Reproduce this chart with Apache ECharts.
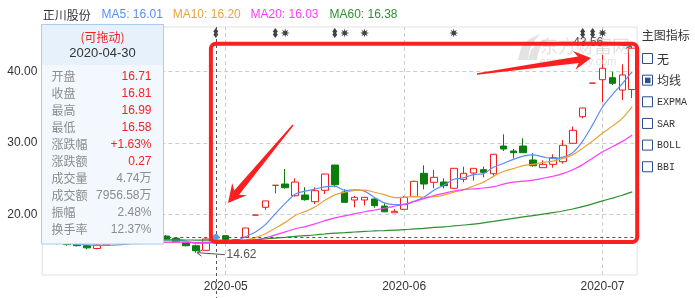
<!DOCTYPE html>
<html><head><meta charset="utf-8">
<script src="https://cdn.jsdelivr.net/npm/echarts@6/dist/echarts.min.js"></script>
<style>html,body{margin:0;padding:0;background:#fff}#c{width:695px;height:298px}</style>
</head><body><div id="c"></div>
<script>
// ---------- data ----------
const dates = ['2020-04-07','2020-04-08','2020-04-09','2020-04-10','2020-04-13','2020-04-14','2020-04-15','2020-04-16','2020-04-17','2020-04-20','2020-04-21','2020-04-22','2020-04-23','2020-04-24','2020-04-27','2020-04-28','2020-04-29','2020-04-30',
'2020-05-06','2020-05-07','2020-05-08','2020-05-11','2020-05-12','2020-05-13','2020-05-14','2020-05-15','2020-05-18','2020-05-19','2020-05-20','2020-05-21','2020-05-22','2020-05-25','2020-05-26','2020-05-27','2020-05-28','2020-05-29',
'2020-06-01','2020-06-02','2020-06-03','2020-06-04','2020-06-05','2020-06-08','2020-06-09','2020-06-10','2020-06-11','2020-06-12','2020-06-15','2020-06-16','2020-06-17','2020-06-18','2020-06-19','2020-06-22','2020-06-23','2020-06-24','2020-06-29','2020-06-30',
'2020-07-01','2020-07-02','2020-07-03','2020-07-06'];
const opens = [16.30,16.10,15.90,15.80,15.60,15.20,15.70,15.90,16.00,16.20,16.30,16.60,16.95,16.63,16.07,15.60,14.95,16.71,
17.00,16.35,16.77,19.89,20.98,24.07,24.25,22.61,22.71,21.77,23.37,26.91,23.13,22.01,22.01,22.15,21.16,20.22,
20.70,22.47,25.75,24.49,24.53,23.65,24.91,25.79,26.26,25.69,29.58,28.88,29.58,27.62,26.54,27.01,27.38,29.96,33.69,38.40,
38.88,39.16,37.43,37.50];
const closes = [16.10,15.90,15.75,15.60,15.30,15.70,15.90,16.00,16.20,16.30,16.50,16.45,16.55,16.16,15.60,14.89,16.54,16.81,
16.45,16.44,18.08,19.89,21.88,24.07,23.73,24.53,22.05,23.31,25.65,24.15,21.68,22.38,22.38,21.21,20.36,20.42,
22.38,24.63,24.25,25.19,24.01,26.45,25.75,26.45,25.89,28.42,29.16,28.64,28.64,26.82,27.01,27.94,29.68,31.78,34.91,38.40,
40.48,38.37,39.54,43.30];
const lows = [16.00,15.80,15.60,15.50,15.10,15.10,15.60,15.80,15.90,16.10,16.20,16.30,16.45,16.05,15.50,14.62,14.90,16.58,
16.35,16.20,16.70,19.89,20.60,22.95,23.60,22.50,21.91,21.44,22.85,23.79,21.60,20.98,21.26,20.93,20.30,20.20,
20.60,22.40,23.51,23.65,23.65,23.60,24.49,24.71,25.19,25.41,28.88,27.85,28.60,26.68,26.50,26.54,27.10,29.90,33.46,38.40,
35.71,38.13,36.03,36.30];
const highs = [16.40,16.20,16.00,15.90,15.70,15.80,16.00,16.10,16.30,16.40,16.60,16.70,17.10,16.70,16.20,15.75,16.60,16.99,
17.05,16.50,18.10,19.89,21.88,24.07,26.35,25.05,23.79,23.79,25.70,26.95,23.51,22.57,22.45,22.20,21.54,20.74,
22.57,24.70,26.87,26.21,25.05,26.50,26.68,26.50,26.68,28.45,31.22,29.16,30.66,28.56,27.57,28.42,30.42,32.29,34.95,38.40,
42.34,40.00,41.04,43.56];
const ma5 = [16.20,16.10,15.95,15.85,15.73,15.65,15.65,15.70,15.82,16.02,16.18,16.29,16.40,16.39,16.25,15.93,15.95,16.01,
16.06,16.23,16.86,17.53,18.55,20.07,21.53,22.82,23.25,23.54,23.85,23.94,23.37,23.43,23.25,22.36,21.60,21.35,
21.35,21.80,22.41,23.37,24.09,24.91,25.13,25.57,25.71,26.59,27.13,27.71,28.15,28.34,28.05,27.81,28.02,28.65,30.26,32.54,
35.05,36.79,38.34,40.02];
const ma10 = [16.35,16.30,16.22,16.12,16.05,15.98,15.93,15.90,15.88,15.88,15.92,15.97,16.05,16.11,16.14,16.06,16.12,16.20,
16.23,16.24,16.40,16.74,17.27,18.06,18.87,19.84,20.39,21.04,21.96,22.73,23.09,23.34,23.39,23.10,22.76,22.35,
22.38,22.51,22.37,22.47,22.70,23.11,23.45,23.97,24.52,25.32,26.00,26.40,26.84,27.00,27.30,27.45,27.84,28.37,29.27,30.27,
31.40,32.37,33.46,35.11];
const ma20 = [16.25,16.22,16.20,16.17,16.12,16.10,16.08,16.07,16.07,16.08,16.10,16.10,16.10,16.09,16.07,16.03,16.02,16.03,
16.06,16.08,16.18,16.38,16.69,17.11,17.53,17.97,18.28,18.65,19.12,19.51,19.77,20.07,20.36,20.61,20.85,21.13,
21.42,21.81,22.20,22.64,22.94,23.27,23.46,23.58,23.69,23.88,24.24,24.51,24.66,24.79,25.06,25.34,25.71,26.24,26.97,27.87,
28.78,29.47,30.23,31.14];
const ma60 = [16.52,16.51,16.50,16.50,16.49,16.48,16.47,16.46,16.45,16.44,16.43,16.42,16.41,16.41,16.40,16.39,16.38,16.38,
16.38,16.37,16.40,16.45,16.54,16.66,16.78,16.91,17.00,17.10,17.24,17.36,17.43,17.52,17.61,17.67,17.72,17.78,
17.85,17.96,18.04,18.16,18.24,18.37,18.50,18.63,18.80,19.00,19.22,19.44,19.65,19.83,20.03,20.24,20.47,20.75,21.07,21.46,
21.88,22.27,22.68,23.15];
const yTicks = [20, 30, 40];
const monthStarts = ['2020-05-06','2020-06-01','2020-07-01'];
const monthLabels = ['2020-05','2020-06','2020-07'];
const flagDates = ['2020-04-30','2020-05-13','2020-05-21','2020-06-29','2020-06-30'];
const starDates = ['2020-05-14','2020-05-22','2020-05-26','2020-06-08','2020-07-01'];
const focusDate = '2020-04-30';
const stockName = '正川股份';
const maNames = ['MA5','MA10','MA20','MA60'];
const maFocus = ['16.01','16.20','16.03','16.38'];
const infoLabels = ['开盘','收盘','最高','最低','涨跌幅','涨跌额','成交量','成交额','振幅','换手率'];
const infoValues = ['16.71','16.81','16.99','16.58','+1.63%','0.27','4.74万','7956.58万','2.48%','12.37%'];
const indicatorItems = ['无','均线','EXPMA','SAR','BOLL','BBI'];
const checkedItem = 1;

// ---------- style ----------
const FONT = '"Liberation Sans","Noto Sans CJK SC",sans-serif';
const CJK = '"Noto Sans CJK SC","Liberation Sans",sans-serif';
const maColors = ['#5a8cf5','#e8a43a','#ff3cff','#2f8f2f'];
const UP = '#f21c1c', DOWN = '#0a7d0a';
const G = {left: 42.3, right: 57.8, top: 27, bottom: 23};
const markerLevel = 45.43;

function starPath(){
  let p='';
  for(let k=0;k<16;k++){
    const a=k*Math.PI/8-Math.PI/2, r=(k%2)?0.42:1;
    p+=(k?'L':'M')+(5+Math.cos(a)*5*r).toFixed(2)+','+(5+Math.sin(a)*5*r).toFixed(2);
  }
  return 'path://'+p+'Z';
}
const flagPath = 'path://M2,0 L4,3.6 L3,5 L4,6.4 L2,10 L0,6.4 L1,5 L0,3.6 Z';

const chart = echarts.init(document.getElementById('c'), null, {renderer:'canvas'});
const option = {
  animation: false,
  backgroundColor: '#fff',
  textStyle: {fontFamily: FONT},
  grid: {left: G.left, right: G.right, top: G.top, bottom: G.bottom, show: true, borderColor: '#e2e2e2', borderWidth: 1},
  xAxis: {
    type: 'category', data: dates, boundaryGap: true,
    axisLine: {show: false}, axisTick: {show: false}, splitLine: {show: false},
    axisLabel: {
      interval: (i, v) => monthStarts.includes(v),
      formatter: v => monthLabels[monthStarts.indexOf(v)] || '',
      color: '#333', fontSize: 12, margin: 6, fontFamily: FONT
    }
  },
  yAxis: {
    type: 'value', min: 11.49, max: 46.27, scale: true,
    axisLine: {show: false}, axisTick: {show: false}, splitLine: {show: false},
    axisLabel: {customValues: yTicks, formatter: v => Number(v).toFixed(2), color: '#333', fontSize: 12, margin: 5, fontFamily: FONT}
  },
  series: [
    {
      type: 'candlestick', z: 2, barWidth: 7,
      data: dates.map((d, i) => [opens[i], closes[i], lows[i], highs[i]]),
      itemStyle: {color: '#fff', color0: DOWN, borderColor: UP, borderColor0: DOWN, borderWidth: 1},
      markLine: {
        silent: true, symbol: ['none', 'none'], label: {show: false}, z: 1,
        lineStyle: {color: '#cccccc', type: [4, 3], width: 1},
        emphasis: {disabled: true},
        data: yTicks.map(v => ({yAxis: v})).concat(monthStarts.map(d => ({xAxis: d})))
      }
    },
    {type: 'line', data: ma5, symbol: 'none', smooth: 0.3, z: 3, lineStyle: {color: maColors[0], width: 1.2}},
    {type: 'line', data: ma10, symbol: 'none', smooth: 0.3, z: 3, lineStyle: {color: maColors[1], width: 1.2}},
    {type: 'line', data: ma20, symbol: 'none', smooth: 0.3, z: 3, lineStyle: {color: maColors[2], width: 1.2}},
    {type: 'line', data: ma60, symbol: 'none', smooth: 0.3, z: 3, lineStyle: {color: maColors[3], width: 1.2}},
    {type: 'scatter', z: 4, data: flagDates.map(d => [d, markerLevel]), symbol: flagPath, symbolSize: [5, 10], itemStyle: {color: '#111'}},
    {type: 'scatter', z: 4, data: starDates.map(d => [d, markerLevel]), symbol: starPath(), symbolSize: [9, 9], itemStyle: {color: '#111'}}
  ]
};
chart.setOption(option);

// ---------- overlay graphics ----------
const conv = (i, v) => chart.convertToPixel({gridIndex: 0}, [i, v]);
const W = 695, H = 298;
const gl = G.left, gr = W - G.right, gt = G.top, gb = H - G.bottom;
const fi = dates.indexOf(focusDate);
const [fx, fy] = conv(fi, closes[fi]);
let minI = 0, maxI = 0;
lows.forEach((v, i) => { if (v < lows[minI]) minI = i; });
highs.forEach((v, i) => { if (v > highs[maxI]) maxI = i; });
const [mnx, mny] = conv(minI, lows[minI]);
const [mxx, mxy] = conv(maxI, highs[maxI]);

function txt(x, y, s, opt) {
  opt = opt || {};
  return {type: 'text', z: opt.z || 110, x: x, y: y, silent: true,
    style: {text: s, fill: opt.fill || '#333', font: (opt.size || 12) + 'px ' + (opt.family || FONT),
      textAlign: opt.align || 'left', align: opt.align || 'left', textVerticalAlign: 'middle', verticalAlign: 'middle', opacity: opt.opacity == null ? 1 : opt.opacity}};
}
function line(x1, y1, x2, y2, stroke, w, dash, z) {
  return {type: 'line', z: z || 105, silent: true, shape: {x1, y1, x2, y2}, style: {stroke, lineWidth: w || 1, lineDash: dash || null}};
}

const gfx = [];
// watermark
gfx.push({type: 'polygon', z: 90, silent: true, shape: {points: [[518,60],[521,48],[529,39],[540,34],[532,44],[529,52],[528,60]]}, style: {fill: 'rgba(200,200,200,0.5)'}});
gfx.push({type: 'polygon', z: 90, silent: true, shape: {points: [[528,60],[531,50],[538,43],[547,39],[540,48],[538,54],[537,60]]}, style: {fill: 'rgba(200,200,200,0.5)'}});
gfx.push(txt(585, 46, '东方财富网', {fill: 'rgba(205,205,205,0.6)', size: 18, family: CJK, align: 'center', z: 90}));
gfx.push(txt(578, 62, 'eastmoney.com', {fill: 'rgba(205,205,205,0.6)', size: 11, align: 'center', z: 90}));
// crosshair
gfx.push(line(Math.round(fx) + 0.5, gt, Math.round(fx) + 0.5, H, '#555', 1, [3, 3], 104));
gfx.push(line(gl, Math.round(fy) + 0.5, gr, Math.round(fy) + 0.5, '#555', 1, [3, 3], 104));
gfx.push({type: 'circle', z: 106, silent: true, shape: {cx: fx, cy: fy, r: 3}, style: {fill: '#4a9ff0'}});
// min label
gfx.push(line(mnx + 29, mny + 2, mnx + 1.5, mny, '#555', 1));
gfx.push({type: 'polyline', z: 105, silent: true, shape: {points: [[mnx + 6, mny - 2.5], [mnx + 1, mny], [mnx + 5.5, mny + 3.5]]}, style: {stroke: '#555', lineWidth: 1, fill: null}});
gfx.push(txt(mnx + 30.5, mny + 2.5, lows[minI].toFixed(2), {fill: '#555', size: 12}));
// max label
gfx.push(line(mxx - 27, mxy - 3.5, mxx - 1.5, mxy, '#555', 1));
gfx.push({type: 'polyline', z: 105, silent: true, shape: {points: [[mxx - 6, mxy - 3.5], [mxx - 1, mxy], [mxx - 6.5, mxy + 2]]}, style: {stroke: '#555', lineWidth: 1, fill: null}});
gfx.push(txt(mxx - 29, mxy - 4, highs[maxI].toFixed(2), {fill: '#555', size: 12, align: 'right'}));
// red annotation box
gfx.push({type: 'rect', z: 120, silent: true, shape: {x: 210.9, y: 43.7, width: 426.3, height: 198.3, r: 5}, style: {fill: null, stroke: '#fb1f1f', lineWidth: 4}});
// red arrows
function arrow(T, P, head, half, neck, tailW) {
  const L = Math.hypot(P[0] - T[0], P[1] - T[1]);
  const d = [(P[0] - T[0]) / L, (P[1] - T[1]) / L], n = [-d[1], d[0]];
  const at = (dist, off) => [P[0] - d[0] * dist + n[0] * off, P[1] - d[1] * dist + n[1] * off];
  return {type: 'polygon', z: 121, silent: true, shape: {points: [
    [T[0] + n[0] * tailW, T[1] + n[1] * tailW], at(head * 0.75, neck), at(head, half), P, at(head, -half), at(head * 0.75, -neck), [T[0] - n[0] * tailW, T[1] - n[1] * tailW]
  ]}, style: {fill: '#fb2020'}};
}
gfx.push(arrow([293, 125], [228, 203], 18, 9.5, 3.2, 0.7));
gfx.push(arrow([477, 74], [591, 58], 17, 9.5, 3.2, 0.7));
// info panel
const PX = 41.5, PY = 24.5, PW = 122, PH = 219.5;
gfx.push({type: 'rect', z: 108, silent: true, shape: {x: PX, y: PY, width: PW, height: PH}, style: {fill: '#f3f8fe', stroke: '#a8ccf3', lineWidth: 1}});
gfx.push({type: 'rect', z: 109, silent: true, shape: {x: PX + 0.5, y: PY + 0.5, width: PW - 1, height: 40}, style: {fill: '#e7f1fc'}});
gfx.push(txt(PX + PW / 2, 37, '(可拖动)', {fill: '#f52222', size: 12, family: CJK, align: 'center'}));
gfx.push(txt(PX + PW / 2, 53.5, focusDate, {fill: '#333', size: 13, align: 'center'}));
infoLabels.forEach((lab, k) => {
  const y = 76.8 + k * 16.95;
  gfx.push(txt(51.5, y, lab, {fill: '#8c8c8c', size: 12, family: CJK}));
  gfx.push(txt(151.5, y, infoValues[k], {fill: k < 6 ? '#f52222' : '#8c8c8c', size: 12, align: 'right'}));
});
// title row
gfx.push(txt(42.7, 15, stockName, {fill: '#333', size: 12, family: CJK}));
const maX = [101.5, 172.7, 250.5, 329.5];
maNames.forEach((n, k) => gfx.push(txt(maX[k], 15, n + ': ' + maFocus[k], {fill: maColors[k], size: 12})));
// indicator legend
gfx.push(txt(641.7, 35, '主图指标', {fill: '#333', size: 12, family: CJK}));
indicatorItems.forEach((it, k) => {
  const top = 53.5 + k * 21.65;
  gfx.push({type: 'rect', z: 110, silent: true, shape: {x: 642.5, y: top, width: 10, height: 10}, style: {fill: '#fff', stroke: '#2b4e8c', lineWidth: 1}});
  if (k === checkedItem) gfx.push({type: 'rect', z: 111, silent: true, shape: {x: 645, y: top + 2.5, width: 5.5, height: 5.5}, style: {fill: '#2b4e8c'}});
  const cjk = /[\u4e00-\u9fff]/.test(it);
  gfx.push(txt(657, top + 5.5, it, {fill: '#333', size: cjk ? 12 : 10, family: cjk ? CJK : '"Liberation Mono",monospace'}));
});
chart.setOption({graphic: gfx});
</script>
</body></html>
